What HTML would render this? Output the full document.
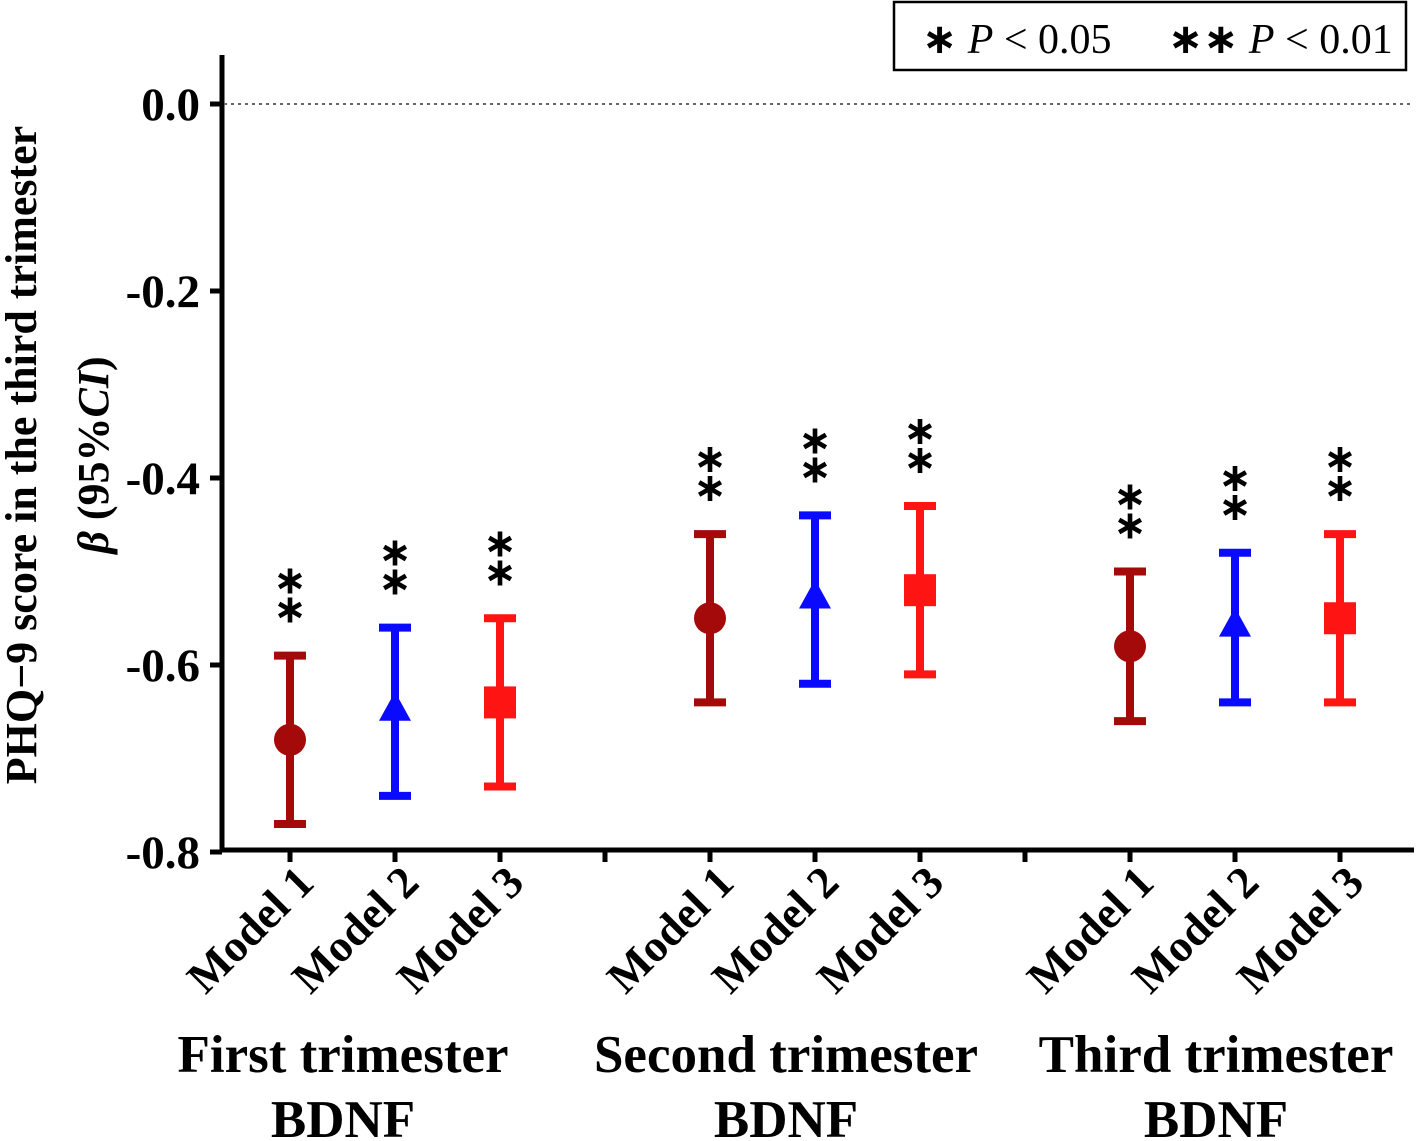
<!DOCTYPE html>
<html><head><meta charset="utf-8"><style>
html,body{margin:0;padding:0;background:#fff;}
svg{display:block;font-family:"Liberation Serif",serif;}
</style></head><body>
<svg id="chart" width="1417" height="1141">
<g id="axes"></g><g id="marks"></g>
<rect x="894" y="2" width="512" height="68" fill="none" stroke="#000" stroke-width="2.5"/>
<text x="922" y="53" font-size="42"><tspan font-family="DejaVu Sans, sans-serif" font-weight="bold">∗</tspan><tspan font-style="italic"> P</tspan> &lt; 0.05</text>
<text x="1168" y="53" font-size="42"><tspan font-family="DejaVu Sans, sans-serif" font-weight="bold">∗∗</tspan><tspan font-style="italic"> P</tspan> &lt; 0.01</text>
<g transform="translate(36,455) rotate(-90)">
<text x="0" y="0" font-size="44" font-weight="bold" text-anchor="middle">PHQ−9 score in the third trimester</text>
<text x="0" y="72" font-size="44" font-weight="bold" text-anchor="middle"><tspan font-style="italic">β</tspan> (95%<tspan font-style="italic">CI</tspan>)</text>
</g>
<text x="343" y="1072" font-size="53" font-weight="bold" text-anchor="middle">First trimester</text>
<text x="343" y="1137" font-size="53" font-weight="bold" text-anchor="middle">BDNF</text>
<text x="786" y="1072" font-size="53" font-weight="bold" text-anchor="middle">Second trimester</text>
<text x="786" y="1137" font-size="53" font-weight="bold" text-anchor="middle">BDNF</text>
<text x="1216" y="1072" font-size="53" font-weight="bold" text-anchor="middle">Third trimester</text>
<text x="1216" y="1137" font-size="53" font-weight="bold" text-anchor="middle">BDNF</text>
</svg>
<script>
const categories=["Model 1","Model 2","Model 3","Model 1","Model 2","Model 3","Model 1","Model 2","Model 3"];
const slots=[0,1,2,4,5,6,8,9,10];
const beta=[-0.68,-0.65,-0.64,-0.55,-0.53,-0.52,-0.58,-0.56,-0.55];
const lower=[-0.77,-0.74,-0.73,-0.64,-0.62,-0.61,-0.66,-0.64,-0.64];
const upper=[-0.59,-0.56,-0.55,-0.46,-0.44,-0.43,-0.50,-0.48,-0.46];
const sig=["**","**","**","**","**","**","**","**","**"];
const yTicks=[0.0,-0.2,-0.4,-0.6,-0.8];
const yTickLabels=["0.0","-0.2","-0.4","-0.6","-0.8"];
const shapes=["circle","triangle","square"];
const colors=["#a50a0a","#0a0aff","#ff1414"];
const NS="http://www.w3.org/2000/svg";
const y=v=>104+(0-v)/0.8*748;
const x=s=>290+s*105;
function mk(tag,attrs,parent){const e=document.createElementNS(NS,tag);for(const k in attrs)e.setAttribute(k,attrs[k]);parent.appendChild(e);return e;}
const ax=document.getElementById('axes'),mg=document.getElementById('marks');
let e=mk('line',{x1:222,y1:55,x2:222,y2:852,stroke:'#000','stroke-width':5},ax);


e=mk('line',{x1:220,y1:850,x2:1414,y2:850,stroke:'#000','stroke-width':5},ax);


e=mk('line',{x1:224,y1:y(0),x2:1414,y2:y(0),stroke:'#666','stroke-width':2,'stroke-dasharray':'3,4'},ax);


yTicks.forEach((t,i)=>{
 let l=mk('line',{x1:210,y1:y(t),x2:222,y2:y(t),stroke:'#000','stroke-width':5},ax);
 
 
 let tx=mk('text',{x:200,y:y(t)+16,'font-size':47,'font-weight':'bold','text-anchor':'end'},ax);
 tx.textContent=yTickLabels[i];
 
 
});
for(let s=0;s<=10;s++){
 let l=mk('line',{x1:x(s),y1:850,x2:x(s),y2:862,stroke:'#000','stroke-width':5},ax);
 
 
}
categories.forEach((c,i)=>{
 const cx=x(slots[i]);
 let tx=mk('text',{x:0,y:0,'font-size':45,'font-weight':'bold','text-anchor':'end',transform:`translate(${cx+26},${885}) rotate(-45)`},ax);
 tx.textContent=c;
 
 
 const m=i%3,col=colors[m];
 const g=mk('g',{},mg);
 
 
 mk('line',{x1:cx,y1:y(lower[i]),x2:cx,y2:y(upper[i]),stroke:col,'stroke-width':8},g);
 mk('line',{x1:cx-16,y1:y(lower[i]),x2:cx+16,y2:y(lower[i]),stroke:col,'stroke-width':8},g);
 mk('line',{x1:cx-16,y1:y(upper[i]),x2:cx+16,y2:y(upper[i]),stroke:col,'stroke-width':8},g);
 const py=y(beta[i]);
 if(shapes[m]==='circle')mk('circle',{cx:cx,cy:py,r:16,fill:col},g);
 else if(shapes[m]==='triangle')mk('polygon',{points:`${cx},${py-20} ${cx-16},${py+9} ${cx+16},${py+9}`,fill:col},g);
 else mk('rect',{x:cx-16,y:py-16,width:32,height:32,fill:col},g);
 const top=y(upper[i]);
 for(let k=0;k<sig[i].length;k++){
  let st=mk('text',{x:cx,y:top-46-k*29+13,'font-size':40,'font-weight':'bold','text-anchor':'middle','font-family':'DejaVu Sans, sans-serif'},g);
  st.textContent='∗';
  
  
 }
});
</script>
</body></html>
